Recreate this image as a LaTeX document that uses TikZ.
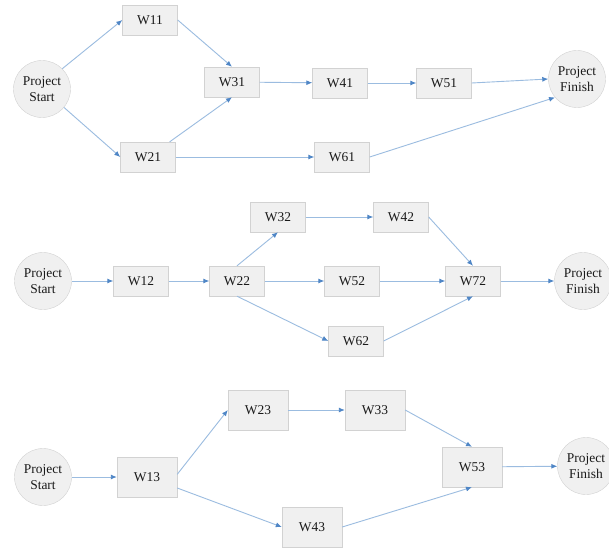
\documentclass[tikz,border=0pt]{standalone}
\usepackage{fontspec}
\newfontfamily\diagfont{Liberation Serif}
\usepackage{xcolor}
\usepackage{tikz}
\usetikzlibrary{arrows.meta}
\definecolor{boxfill}{HTML}{F0F0F0}
\definecolor{boxline}{HTML}{D2D2D2}
\definecolor{linkblue}{HTML}{9BBCE0}
\definecolor{tipblue}{HTML}{4F86C6}

\begin{document}
\begin{tikzpicture}[x=1bp, y=-1bp,
  task/.style={draw=boxline, fill=boxfill, minimum width=55bp, minimum height=30bp, inner sep=0pt, text=black!90, font=\diagfont\fontsize{13.5}{15}\selectfont},
  bigtask/.style={task, minimum width=60bp, minimum height=40bp},
  event/.style={circle, draw=boxline, fill=boxfill, minimum size=57bp, inner sep=0pt, align=center, text=black!90, font=\diagfont\fontsize{13.5}{16}\selectfont},
  flow/.style={draw=linkblue, line width=0.9bp, -{Latex[length=6bp,width=5bp,color=tipblue]}}]
\clip (0,0) rectangle (609,553);
\fill[white] (0,0) rectangle (609,553);
% first network
\node[event] (start1) at (42,89) {Project\\Start};
\node[task] (w11) at (150,20) {W11};
\node[task] (w21) at (148,157) {W21};
\node[task] (w31) at (232,82) {W31};
\node[task] (w41) at (340,83) {W41};
\node[task] (w51) at (444,83) {W51};
\node[task] (w61) at (342,157) {W61};
\node[event] (finish1) at (577,79) {Project\\Finish};
\draw[flow] (start1.45) -- (w11.west);
\draw[flow] (start1.-40) -- (w21.west);
\draw[flow] (w11.east) -- (w31.north);
\draw[flow] (w21.35) -- (w31.south);
\draw[flow] (w31) -- (w41);
\draw[flow] (w41) -- (w51);
\draw[flow] (w51.east) -- (finish1.west);
\draw[flow] (w21) -- (w61);
\draw[flow] (w61.east) -- (finish1.220);
% second network
\node[event] (start2) at (43,281) {Project\\Start};
\node[task] (w12) at (141,281) {W12};
\node[task] (w22) at (237,281) {W22};
\node[task] (w32) at (278,217) {W32};
\node[task] (w42) at (401,217) {W42};
\node[task] (w52) at (352,281) {W52};
\node[task] (w62) at (356,341) {W62};
\node[task] (w72) at (473,281) {W72};
\node[event] (finish2) at (583,281) {Project\\Finish};
\draw[flow] (start2) -- (w12);
\draw[flow] (w12) -- (w22);
\draw[flow] (w22.north) -- (w32.south);
\draw[flow] (w32) -- (w42);
\draw[flow] (w22) -- (w52);
\draw[flow] (w22.south) -- (w62.west);
\draw[flow] (w42.east) -- (w72.north);
\draw[flow] (w52) -- (w72);
\draw[flow] (w62.east) -- (w72.south);
\draw[flow] (w72) -- (finish2);
% third network
\node[event] (start3) at (43,477) {Project\\Start};
\node[bigtask] (w13) at (147,477) {W13};
\node[bigtask] (w23) at (258,410) {W23};
\node[bigtask] (w33) at (375,410) {W33};
\node[bigtask] (w43) at (312,527) {W43};
\node[bigtask] (w53) at (472,467) {W53};
\node[event] (finish3) at (586,466) {Project\\Finish};
\draw[flow] (start3) -- (w13);
\draw[flow] (w13.5) -- (w23.west);
\draw[flow] (w13.-20) -- (w43.west);
\draw[flow] (w23) -- (w33);
\draw[flow] (w33.east) -- (w53.north);
\draw[flow] (w43.east) -- (w53.south);
\draw[flow] (w53) -- (finish3);
\end{tikzpicture}
\end{document}
